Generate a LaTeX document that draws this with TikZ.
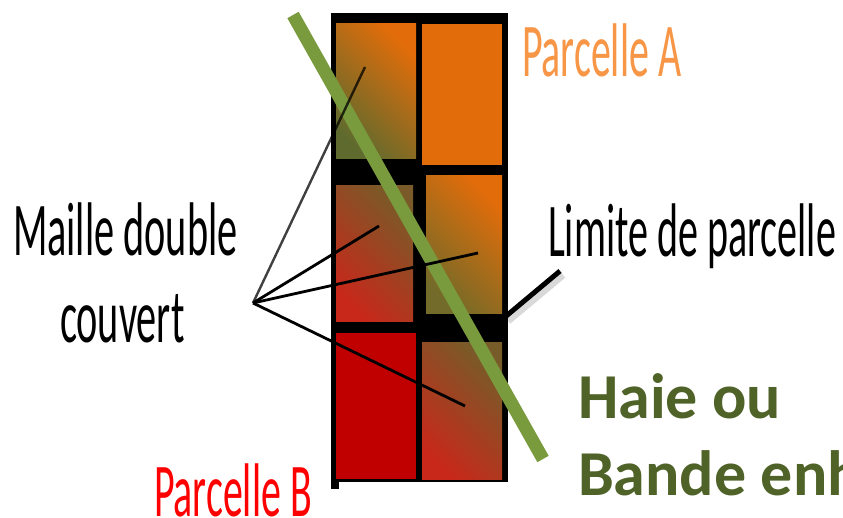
\documentclass[tikz,border=0pt]{standalone}
\usepackage{fontspec}
\setmainfont{Carlito}
\definecolor{orangeA}{HTML}{E36C0A}
\definecolor{oliveD}{HTML}{5F6B2E}
\definecolor{redB}{HTML}{C00000}
\definecolor{redC}{HTML}{C8281A}
\definecolor{brownO}{HTML}{7A5A28}
\definecolor{hedge}{HTML}{7A9A3E}
\definecolor{txtA}{HTML}{F79646}
\definecolor{txtG}{HTML}{4F6228}
\begin{document}
\begin{tikzpicture}[x=1pt,y=-1pt,
  leader/.style={line width=2.8pt, black},
  lbl/.style={anchor=base west, inner sep=0pt, outer sep=0pt},
  big/.style={font=\fontsize{76}{80}\selectfont},
  bigbold/.style={font=\bfseries\fontsize{64}{70}\selectfont}]
\useasboundingbox (0,0) rectangle (843,518);
% grid frame
\fill[black] (331,13) rectangle (508,482);
\fill[black] (331,482) rectangle (339,489);
% cells
\shade[top color=orangeA, bottom color=oliveD, shading angle=-45] (336,24) rectangle (416,159);
\fill[orangeA] (422,24) rectangle (502,165);
\shade[top color=brownO, bottom color=redC, shading angle=-45] (336,186) rectangle (413,322);
\shade[top color=orangeA, bottom color=oliveD!85!orangeA, shading angle=-45] (426,176) rectangle (502,314);
\fill[redB] (336,333) rectangle (416,479);
\shade[top color=brownO!90!oliveD, bottom color=redC, shading angle=-45] (422,343) rectangle (502,479);
% hedge
\coordinate (hA) at (293,15);
\coordinate (hB) at (543,459);
\draw[hedge, line width=13pt] (hA) -- (hB);
% leaders for Maille double couvert
\coordinate (apex) at (253,303);
\coordinate (m1) at (365,67);
\coordinate (m2) at (379,226);
\coordinate (m3) at (478,253);
\coordinate (m4) at (465,406);
\draw[leader, opacity=0.75, line width=2.4pt] (apex) -- (m1);
\draw[leader] (apex) -- (m2);
\draw[leader] (apex) -- (m3);
\draw[leader] (apex) -- (m4);
% leader for Limite de parcelle
\coordinate (l1) at (505,317);
\coordinate (l2) at (560,271);
\draw[black, opacity=0.15, line width=7pt] ([shift={(3,4)}]l1) -- ([shift={(3,4)}]l2);
\draw[black, line width=5pt] (l1) -- (l2);
% labels
\node[lbl, big, text=txtA] (pA) at (522,77) {\scalebox{0.525}[1]{Parcelle A}};
\node[lbl, big] (md) at (13,256) {\scalebox{0.53}[1]{Maille double}};
\node[lbl, big] (cv) at (60,343) {\scalebox{0.53}[1]{couvert}};
\node[lbl, big] (lp) at (548,257) {\scalebox{0.527}[1]{Limite de parcelle}};
\node[lbl, big, text=red] (pB) at (154,516) {\scalebox{0.525}[1]{Parcelle B}};
\node[lbl, bigbold, text=txtG] (h1) at (578,418) {Haie ou};
\node[lbl, bigbold, text=txtG] (h2) at (578,495) {Bande enh};
\end{tikzpicture}
\end{document}
